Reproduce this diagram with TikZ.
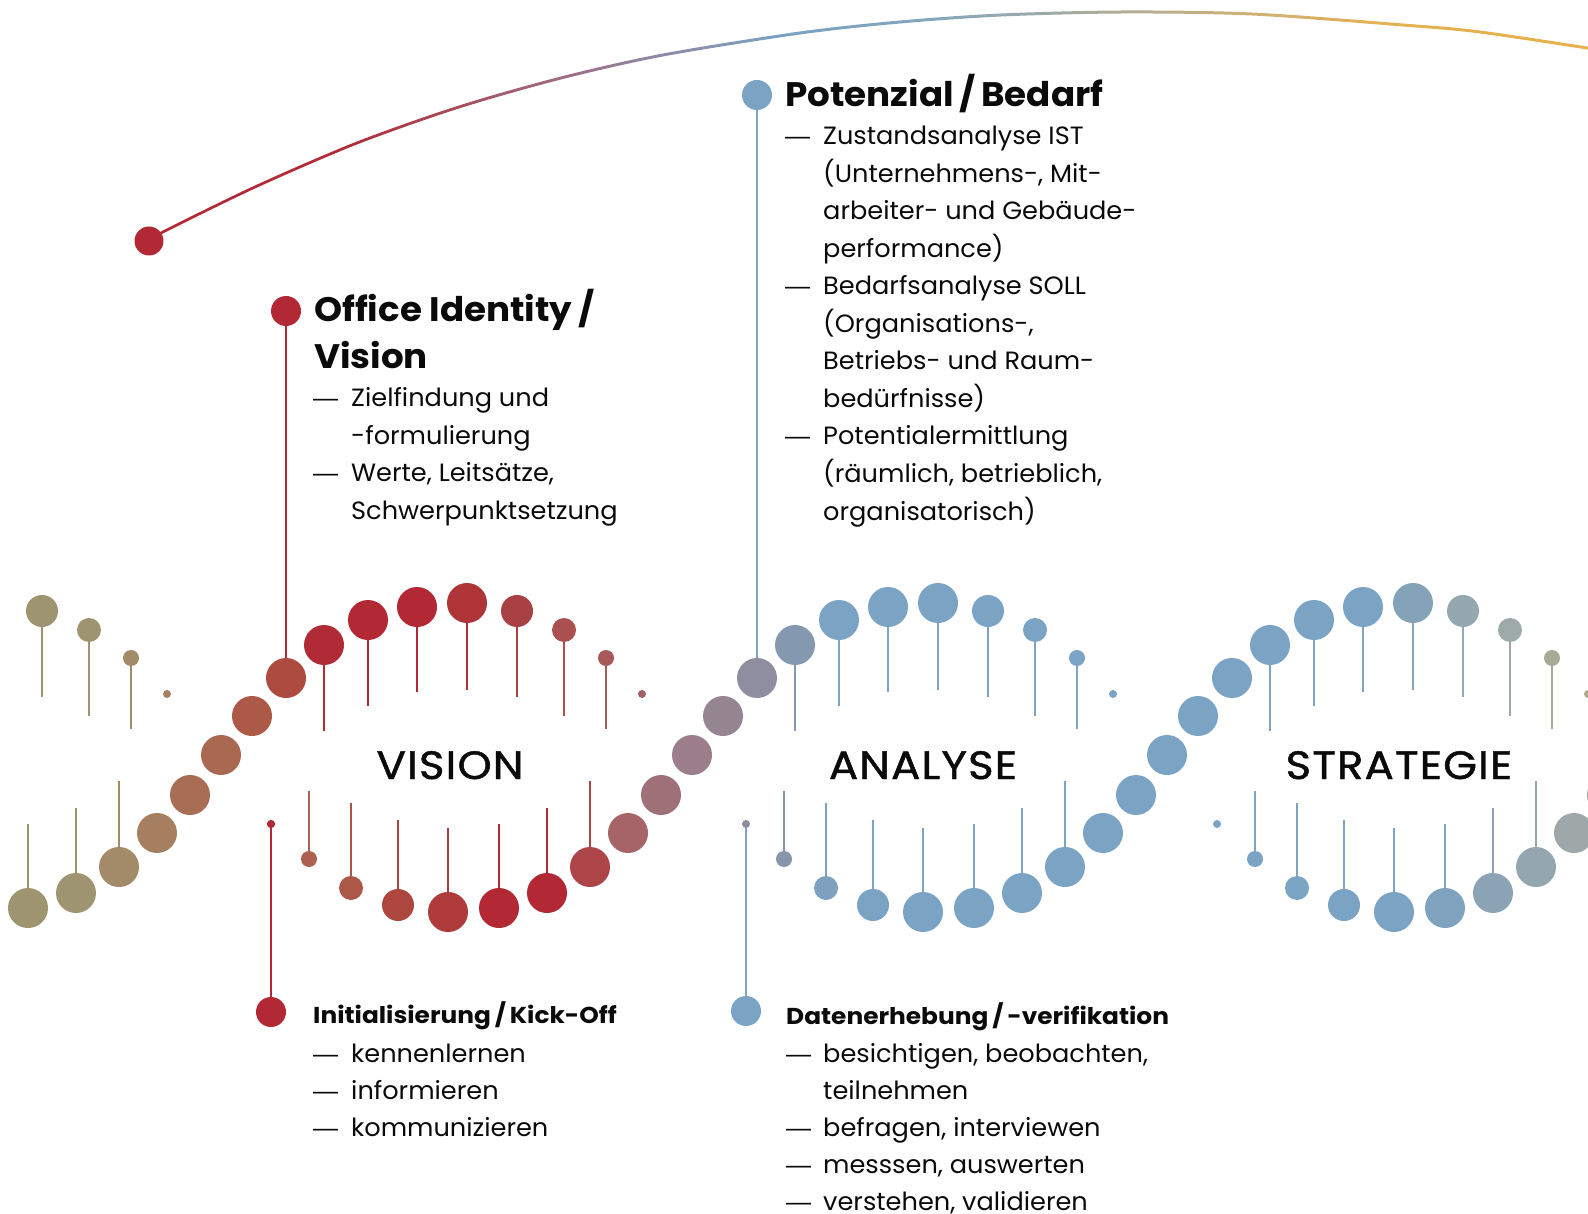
\documentclass[tikz,border=0pt]{standalone}
\usepackage{fontspec}
\setmainfont{Poppins}
\newfontfamily\bodyfont{Poppins}[FakeStretch=1.025]
\newfontfamily\headfont{Poppins}[FakeStretch=1.05]
\newfontfamily\subfont{Poppins}[FakeStretch=1.08]
\newfontfamily\phasefont{Poppins}[FakeBold=1.2, FakeStretch=1.1, LetterSpace=3]
\newfontfamily\dashfont{Liberation Sans}
\definecolor{cred}{HTML}{B22834}
\definecolor{cblue}{HTML}{7BA3C3}
\definecolor{ctext}{HTML}{0A0A0A}
% upper strand colour stops
\definecolor{U0}{HTML}{9F9470}\definecolor{U1}{HTML}{A38A68}\definecolor{U2}{HTML}{A68060}
\definecolor{U3}{HTML}{AD5A48}\definecolor{U4}{HTML}{AE4A40}\definecolor{U5}{HTML}{B02C36}
\definecolor{U6}{HTML}{B22834}\definecolor{U7}{HTML}{AE3438}\definecolor{U8}{HTML}{A84044}
\definecolor{U9}{HTML}{AA5050}\definecolor{U10}{HTML}{A85A5A}\definecolor{U11}{HTML}{A06062}
\definecolor{U12}{HTML}{9C7E8A}\definecolor{U13}{HTML}{948590}\definecolor{U14}{HTML}{8E8EA0}
\definecolor{U15}{HTML}{8499B0}\definecolor{U16}{HTML}{7BA3C3}\definecolor{U17}{HTML}{84A3B8}
\definecolor{U18}{HTML}{94A8B0}\definecolor{U19}{HTML}{9EAAA8}\definecolor{U20}{HTML}{A8AA98}
\definecolor{U21}{HTML}{B0AA90}
% lower strand colour stops
\definecolor{L0}{HTML}{9F9470}\definecolor{L1}{HTML}{A38A68}\definecolor{L2}{HTML}{A57F60}
\definecolor{L3}{HTML}{A86E55}\definecolor{L4}{HTML}{AC6450}\definecolor{L5}{HTML}{AE6050}
\definecolor{L6}{HTML}{AC5848}\definecolor{L7}{HTML}{AE4640}\definecolor{L8}{HTML}{AE3A3A}
\definecolor{L9}{HTML}{B22834}\definecolor{L10}{HTML}{AC4448}\definecolor{L11}{HTML}{A66468}
\definecolor{L12}{HTML}{A07078}\definecolor{L13}{HTML}{9C7E8A}\definecolor{L14}{HTML}{948590}
\definecolor{L15}{HTML}{8E8EA0}\definecolor{L16}{HTML}{8499B0}\definecolor{L17}{HTML}{7BA3C3}
\definecolor{L18}{HTML}{7FA2BE}\definecolor{L19}{HTML}{8AA4B6}\definecolor{L20}{HTML}{94A6AE}
\definecolor{L21}{HTML}{9EA8A8}\definecolor{L22}{HTML}{A4A8A0}
\newcommand\dcseg[4]{\ifdim\dcx pt>#1pt \pgfmathsetmacro\dct{min(100,(\dcx-#1)/(#2-#1)*100)}\colorlet{dc}{#4!\dct!#3}\fi}
\newcommand\setdc[2]{%
  \pgfmathsetmacro\dcx{#1}%
  \ifdim #2pt<757pt
  \colorlet{dc}{U0}%
  \dcseg{100}{130}{U0}{U1}\dcseg{130}{170}{U1}{U2}\dcseg{170}{250}{U2}{U3}%
  \dcseg{250}{290}{U3}{U4}\dcseg{290}{320}{U4}{U5}\dcseg{320}{340}{U5}{U6}%
  \dcseg{430}{467}{U6}{U7}\dcseg{467}{517}{U7}{U8}\dcseg{517}{564}{U8}{U9}%
  \dcseg{564}{606}{U9}{U10}\dcseg{606}{642}{U10}{U11}\dcseg{642}{692}{U11}{U12}%
  \dcseg{692}{723}{U12}{U13}\dcseg{723}{757}{U13}{U14}\dcseg{757}{795}{U14}{U15}%
  \dcseg{795}{835}{U15}{U16}\dcseg{1380}{1413}{U16}{U17}\dcseg{1413}{1463}{U17}{U18}%
  \dcseg{1463}{1510}{U18}{U19}\dcseg{1510}{1552}{U19}{U20}\dcseg{1552}{1600}{U20}{U21}%
  \else
  \colorlet{dc}{L0}%
  \dcseg{80}{119}{L0}{L1}\dcseg{119}{157}{L1}{L2}\dcseg{157}{190}{L2}{L3}%
  \dcseg{190}{221}{L3}{L4}\dcseg{221}{309}{L4}{L5}\dcseg{309}{351}{L5}{L6}%
  \dcseg{351}{398}{L6}{L7}\dcseg{398}{448}{L7}{L8}\dcseg{448}{490}{L8}{L9}%
  \dcseg{550}{590}{L9}{L10}\dcseg{590}{627}{L10}{L11}\dcseg{627}{661}{L11}{L12}%
  \dcseg{661}{692}{L12}{L13}\dcseg{692}{723}{L13}{L14}\dcseg{723}{757}{L14}{L15}%
  \dcseg{757}{795}{L15}{L16}\dcseg{795}{835}{L16}{L17}\dcseg{1400}{1444}{L17}{L18}%
  \dcseg{1444}{1492}{L18}{L19}\dcseg{1492}{1536}{L19}{L20}\dcseg{1536}{1573}{L20}{L21}%
  \dcseg{1573}{1610}{L21}{L22}%
  \fi}
% arc colours
\definecolor{a0}{HTML}{B22834}
\definecolor{a1}{HTML}{B02E3A}
\definecolor{a2}{HTML}{A84C5C}
\definecolor{a3}{HTML}{9F6C82}
\definecolor{a4}{HTML}{8E8AA6}
\definecolor{a5}{HTML}{7BA2C2}
\definecolor{a6}{HTML}{82A6BE}
\definecolor{a7}{HTML}{9CAAAA}
\definecolor{a8}{HTML}{B4AE90}
\definecolor{a9}{HTML}{CCB078}
\definecolor{a10}{HTML}{E2B256}
\definecolor{a11}{HTML}{E8B048}
\pgfdeclarehorizontalshading{arcshade}{100bp}{color(0bp)=(a0); color(25bp)=(a0); color(31.9bp)=(a1); color(35.4bp)=(a2); color(39.2bp)=(a3); color(42.6bp)=(a4); color(46.7bp)=(a5); color(51.6bp)=(a6); color(55.7bp)=(a7); color(59.1bp)=(a8); color(62.6bp)=(a9); color(67.1bp)=(a10); color(75bp)=(a11); color(100bp)=(a11)}
\def\Ulist{-23/912/20/828, 28/908/20/824, 76/893/20/808, 119/867/20/781, 157/833/20/0, 190/795/20/0, 221/755/20/0, 252/716/20/0, 286/678/20/0, 324/645/20/731, 368/620/20/706, 417/607/20/692, 467/603/20/690, 517/611/16/697, 564/630/12/716, 606/658/8/729, 642/694/4/0, 746/824/4/0, 784/859/8/791, 826/888/12/803, 873/905/16/820}
\tikzset{
  stemline/.style={line width=2.6pt},
  link/.style={line width=2.6pt},
  bigdot/.style={circle, inner sep=0pt, minimum size=30pt},
  body/.style={anchor=base west, inner sep=0pt, text=ctext, font=\bodyfont\fontsize{25}{37}\selectfont},
  dashmark/.style={anchor=base west, inner sep=0pt, text=ctext, font=\dashfont\fontsize{25}{37}\selectfont},
  head/.style={anchor=base west, inner sep=0pt, text=ctext, font=\headfont\bfseries\fontsize{34}{47}\selectfont},
  subhead/.style={anchor=base west, inner sep=0pt, text=ctext, font=\subfont\bfseries\fontsize{23}{30}\selectfont},
  phase/.style={anchor=base, inner sep=0pt, text=ctext, font=\phasefont\fontsize{39.5}{45}\selectfont},
}
\begin{document}
\begin{tikzpicture}[x=1pt,y=-1pt]
\useasboundingbox (0,0) rectangle (1588,1214);
\begin{scope}
\clip (0,0) rectangle (1588,1214);
% top arc
\shade[shading=arcshade] plot[smooth] coordinates {(149,239.5) (163,230.5) (255,185.5) (357,141.5) (459,105.5) (561,76.5) (663,53.5) (800,31.5) (900,20.5) (1001,13.5) (1122,10.5) (1252,12.5) (1403,23.5) (1480,30.5) (1600,48.5)}
  -- plot[smooth] coordinates {(1600,51.5) (1480,33.5) (1403,26.5) (1252,15.5) (1122,13.5) (1001,16.5) (900,23.5) (800,34.5) (663,56.5) (561,79.5) (459,108.5) (357,144.5) (255,188.5) (163,233.5) (149,242.5)} -- cycle;
\node[bigdot, fill=cred, minimum size=29pt] (arcstart) at (149,241) {};
% helix anchor points
\coordinate (hOffice) at (286,678);
\coordinate (hPot) at (757,678);
\coordinate (hInit) at (271,824);
\coordinate (hDat) at (746,824);
% connectors
\node[bigdot, fill=cred] (dOffice) at (286,311) {};
\node[bigdot, fill=cblue] (dPot) at (757,95) {};
\node[bigdot, fill=cred] (dInit) at (271,1012) {};
\node[bigdot, fill=cblue] (dDat) at (746,1011) {};
\draw[link, cred] (dOffice.center) -- (hOffice);
\draw[link, cblue] (dPot.center) -- (hPot);
\draw[link, cred] (dInit.center) -- (hInit);
\draw[link, cblue] (dDat.center) -- (hDat);
% stems
\foreach \off in {-475,0,471,946,1417}{
  \foreach \ux/\uy/\ur/\us in \Ulist {
    \pgfmathsetmacro\xx{\ux+\off}
    \ifdim\xx pt>0pt
    \ifnum\us>0
      \setdc{\xx}{\uy}
      \draw[stemline, draw=dc] (\xx,\uy) -- (\xx,\us);
    \fi
    \fi
  }
}
% dots
\foreach \off in {-475,0,471,946,1417}{
  \foreach \ux/\uy/\ur/\us in \Ulist {
    \pgfmathsetmacro\xx{\ux+\off}
    \ifdim\xx pt>0pt
      \setdc{\xx}{\uy}
      \fill[dc] (\xx,\uy) circle[radius=\ur];
    \fi
  }
}
\fill[cred] (hInit) circle[radius=4];
\end{scope}
% phase labels
\node[phase] (lVision) at (450,779) {VISION};
\node[phase] (lAnalyse) at (923,779) {ANALYSE};
\node[phase] (lStrategie) at (1399,779) {STRATEGIE};
% Office Identity block
\node[head] (oh1) at (314,322) {Office Identity\,/};
\node[head] (oh2) at (314,369) {Vision};
\node[dashmark] (od1) at (313,407) {—};
\node[body] (ot1) at (351,407) {Zielfindung und};
\node[body] (ot2) at (351,444) {-formulierung};
\node[dashmark] (od3) at (313,482) {—};
\node[body] (ot3) at (351,482) {Werte, Leitsätze,};
\node[body] (ot4) at (351,519) {Schwerpunktsetzung};
% Potenzial block
\node[head] (ph) at (785,107) {Potenzial\,/\,Bedarf};
\node[dashmark] (pd1) at (785,145) {—};
\node[body] (pt1) at (823,145) {Zustandsanalyse IST};
\node[body] (pt2) at (823,182.5) {(Unternehmens-, Mit-};
\node[body] (pt3) at (823,220) {arbeiter- und Gebäude-};
\node[body] (pt4) at (823,257.5) {performance)};
\node[dashmark] (pd5) at (785,295) {—};
\node[body] (pt5) at (823,295) {Bedarfsanalyse SOLL};
\node[body] (pt6) at (823,332.5) {(Organisations-,};
\node[body] (pt7) at (823,370) {Betriebs- und Raum-};
\node[body] (pt8) at (823,407.5) {bedürfnisse)};
\node[dashmark] (pd9) at (785,445) {—};
\node[body] (pt9) at (823,445) {Potentialermittlung};
\node[body] (pt10) at (823,482.5) {(räumlich, betrieblich,};
\node[body] (pt11) at (823,520) {organisatorisch)};
% Initialisierung block
\node[subhead] (ih) at (313,1023) {Initialisierung\,/\,Kick-Off};
\node[dashmark] (id1) at (313,1062) {—};
\node[body] (it1) at (351,1062) {kennenlernen};
\node[dashmark] (id2) at (313,1099) {—};
\node[body] (it2) at (351,1099) {informieren};
\node[dashmark] (id3) at (313,1136) {—};
\node[body] (it3) at (351,1136) {kommunizieren};
% Datenerhebung block
\node[subhead] (dh) at (786,1024) {Datenerhebung\,/\,-verifikation};
\node[dashmark] (dd1) at (786,1062) {—};
\node[body] (dt1) at (823,1062) {besichtigen, beobachten,};
\node[body] (dt2) at (823,1099) {teilnehmen};
\node[dashmark] (dd3) at (786,1136) {—};
\node[body] (dt3) at (823,1136) {befragen, interviewen};
\node[dashmark] (dd4) at (786,1173) {—};
\node[body] (dt4) at (823,1173) {messsen, auswerten};
\node[dashmark] (dd5) at (786,1210) {—};
\node[body] (dt5) at (823,1210) {verstehen, validieren};
\end{tikzpicture}
\end{document}
